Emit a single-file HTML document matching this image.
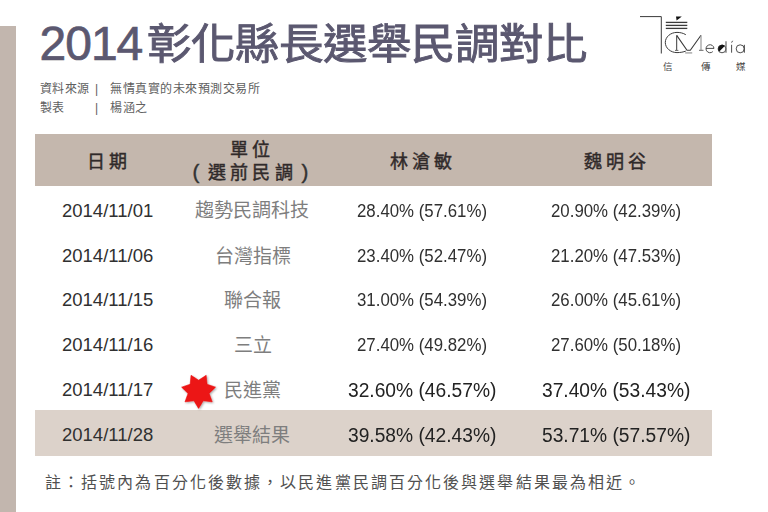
<!DOCTYPE html>
<html lang="zh-TW"><head><meta charset="utf-8">
<style>
html,body{margin:0;padding:0;}
body{width:768px;height:512px;overflow:hidden;background:#fff;position:relative;font-family:"Liberation Sans",sans-serif;}
.abs{position:absolute;white-space:nowrap;}
#bar{left:0;top:26px;width:16px;height:486px;background:#c2b6ae;}
#title{left:39.5px;top:14px;font-size:48px;color:#5b5870;line-height:60px;}
#title .n{letter-spacing:-1px;-webkit-text-stroke:0.7px #5b5870;}
#title .c{display:inline-block;font-size:42px;letter-spacing:-0.4px;transform:scaleX(1.058);transform-origin:0 50%;margin-left:4.5px;-webkit-text-stroke:0.9px #5b5870;position:relative;top:-1px;}
.src{font-size:12px;letter-spacing:0.5px;color:#606060;line-height:16px;}
#hdr{left:35px;top:134px;width:677px;height:52px;background:#c4b7ad;}
#last{left:35px;top:410px;width:677px;height:46px;background:#dcd2ca;}
.h{font-size:18px;font-weight:normal;color:#302a2a;letter-spacing:4px;line-height:20px;-webkit-text-stroke:0.45px #302a2a;}
.hp{font-size:20.5px;color:#333;line-height:24px;-webkit-text-stroke:0.4px #333;}
.d{font-size:18.5px;color:#303030;line-height:20px;}
.u{font-size:19px;font-weight:300;color:#7e7e7e;line-height:20px;}
.p{font-size:18px;color:#303030;line-height:20px;transform:scaleX(0.935);transform-origin:0 0;}
.P{font-size:20px;color:#222;line-height:20px;transform:scaleX(0.96);transform-origin:0 0;}
#note{left:45px;top:473px;font-size:16px;color:#505050;line-height:20px;letter-spacing:2.1px;}
.lg{font-family:"Liberation Serif",serif;font-size:9.5px;line-height:12px;color:#444;}
</style></head><body>
<div id="bar" class="abs"></div>
<div id="title" class="abs"><span class="n">2014</span><span class="c">彰化縣長選舉民調對比</span></div>
<div class="abs src" style="left:39.5px;top:81px;">資料來源</div>
<div class="abs src" style="left:95px;top:81px;">|</div>
<div class="abs src" style="left:110px;top:81px;">無情真實的未來預測交易所</div>
<div class="abs src" style="left:39.5px;top:99.5px;">製表</div>
<div class="abs src" style="left:95px;top:99.5px;">|</div>
<div class="abs src" style="left:110px;top:99.5px;">楊涵之</div>

<div id="hdr" class="abs"></div>
<div id="last" class="abs"></div>

<div class="abs h" style="left:86.5px;top:152px;">日期</div>
<div class="abs h" style="left:229.5px;top:139.5px;">單位</div>
<div class="abs hp" style="left:192.5px;top:159.5px;">(</div>
<div class="abs h" style="left:207.5px;top:163px;letter-spacing:4.4px;">選前民調</div>
<div class="abs hp" style="left:301.5px;top:159.5px;">)</div>
<div class="abs h" style="left:389.5px;top:152px;">林滄敏</div>
<div class="abs h" style="left:583.5px;top:152px;">魏明谷</div>

<div class="abs d" style="left:62px;top:200.5px;">2014/11/01</div>
<div class="abs u" style="left:195.2px;top:201px;">趨勢民調科技</div>
<div class="abs p" style="left:357px;top:200.5px;">28.40% (57.61%)</div>
<div class="abs p" style="left:550.5px;top:200.5px;">20.90% (42.39%)</div>

<div class="abs d" style="left:62px;top:245.5px;">2014/11/06</div>
<div class="abs u" style="left:215.2px;top:247px;">台灣指標</div>
<div class="abs p" style="left:357px;top:245.5px;">23.40% (52.47%)</div>
<div class="abs p" style="left:550.5px;top:245.5px;">21.20% (47.53%)</div>

<div class="abs d" style="left:62px;top:289.5px;">2014/11/15</div>
<div class="abs u" style="left:224.4px;top:291px;">聯合報</div>
<div class="abs p" style="left:357px;top:289.5px;">31.00% (54.39%)</div>
<div class="abs p" style="left:550.5px;top:289.5px;">26.00% (45.61%)</div>

<div class="abs d" style="left:62px;top:334.5px;">2014/11/16</div>
<div class="abs u" style="left:233.5px;top:336px;">三立</div>
<div class="abs p" style="left:357px;top:334.5px;">27.40% (49.82%)</div>
<div class="abs p" style="left:550.5px;top:334.5px;">27.60% (50.18%)</div>

<div class="abs d" style="left:62px;top:379.5px;">2014/11/17</div>
<div class="abs u" style="left:224.4px;top:381px;">民進黨</div>
<div class="abs P" style="left:348px;top:379.5px;">32.60% (46.57%)</div>
<div class="abs P" style="left:542px;top:379.5px;">37.40% (53.43%)</div>

<div class="abs d" style="left:62px;top:425px;">2014/11/28</div>
<div class="abs u" style="left:214.2px;top:425.5px;">選舉結果</div>
<div class="abs P" style="left:348px;top:425px;">39.58% (42.43%)</div>
<div class="abs P" style="left:542px;top:425px;">53.71% (57.57%)</div>

<svg class="abs" style="left:176px;top:368px;" width="46" height="46" viewBox="176 368 46 46">
<defs><filter id="sh" x="-30%" y="-30%" width="160%" height="160%"><feGaussianBlur in="SourceAlpha" stdDeviation="1"/><feOffset dx="0.5" dy="1" result="b"/><feFlood flood-color="#000" flood-opacity="0.35"/><feComposite in2="b" operator="in"/><feMerge><feMergeNode/><feMergeNode in="SourceGraphic"/></feMerge></filter></defs>
<polygon id="star" fill="#ec1212" filter="url(#sh)" stroke="#ec1212" stroke-width="0.6" stroke-linejoin="round" points="198.60,408.40 193.91,400.73 185.00,401.85 188.07,393.40 181.64,387.13 190.16,384.27 191.05,375.32 198.60,380.20 206.15,375.32 207.04,384.27 215.56,387.13 209.13,393.40 212.20,401.85 203.29,400.73"/>
</svg>
<svg class="abs" style="left:630px;top:8px;" width="130" height="70" viewBox="630 8 130 70">
<g fill="none" stroke="#3a3a3a" stroke-width="1">
<polyline points="640,16.6 661.3,16.6 661.3,53.5"/>
<line x1="665.8" y1="22.4" x2="687.3" y2="22.4" stroke-width="1.3"/>
<line x1="665.8" y1="25.4" x2="687.3" y2="25.4" stroke-width="1.3"/>
<line x1="665.8" y1="28.4" x2="687.3" y2="28.4" stroke-width="1.3"/>
<path d="M685.8,34.7 C683,33 680,32.4 677,32.4 C670.5,32.4 665.3,37 665.3,42.5 C665.3,48 670.5,52.6 677,52.6 C680.5,52.6 683.5,52 685.8,51.1" stroke-width="1"/>
<line x1="676.7" y1="35.4" x2="676.7" y2="50.3"/>
<line x1="675" y1="50.4" x2="678.4" y2="50.4" stroke="#666"/>
<polyline points="676.7,35.4 687,50.3 690.3,50.3 701,35.2" stroke-width="1.1"/>
<line x1="701" y1="35.4" x2="701" y2="50" stroke="#999" stroke-width="1.2"/>
<line x1="699" y1="50.3" x2="703.5" y2="50.3" stroke="#666"/>
<line x1="685.2" y1="52.9" x2="692.2" y2="52.9" stroke="#aaa" stroke-width="1.5"/>
<path d="M706,48.4 H714 A4,4 0 1 0 712.8,51.6" stroke-width="0.9"/>
<circle cx="722" cy="48.9" r="3.9" stroke-width="0.9"/>
<line x1="726" y1="41.2" x2="726" y2="52.7" stroke="#666" stroke-width="1.2"/>
<line x1="731.6" y1="44.8" x2="731.6" y2="52.7" stroke-width="0.9"/>
<line x1="731.6" y1="42.6" x2="732.6" y2="40.8" stroke-width="0.9"/>
<circle cx="740.2" cy="48.8" r="4" stroke-width="0.9"/>
<line x1="744.4" y1="44.8" x2="744.4" y2="52.7" stroke-width="0.9"/>
</g>
<polygon points="676,16.4 681.8,16.4 676.6,20.6" fill="#111"/>
<path d="M718.1,48.9 A3.9,3.9 0 0 1 724.8,46.1 L719.3,51.6 A3.9,3.9 0 0 1 718.1,48.9 Z" fill="#111"/>
</svg>
<div class="abs lg" style="left:663px;top:60.5px;">信</div>
<div class="abs lg" style="left:700.5px;top:60.5px;">傳</div>
<div class="abs lg" style="left:736px;top:60.5px;">媒</div>
<div id="note" class="abs">註：括號內為百分化後數據，以民進黨民調百分化後與選舉結果最為相近。</div>
</body></html>
